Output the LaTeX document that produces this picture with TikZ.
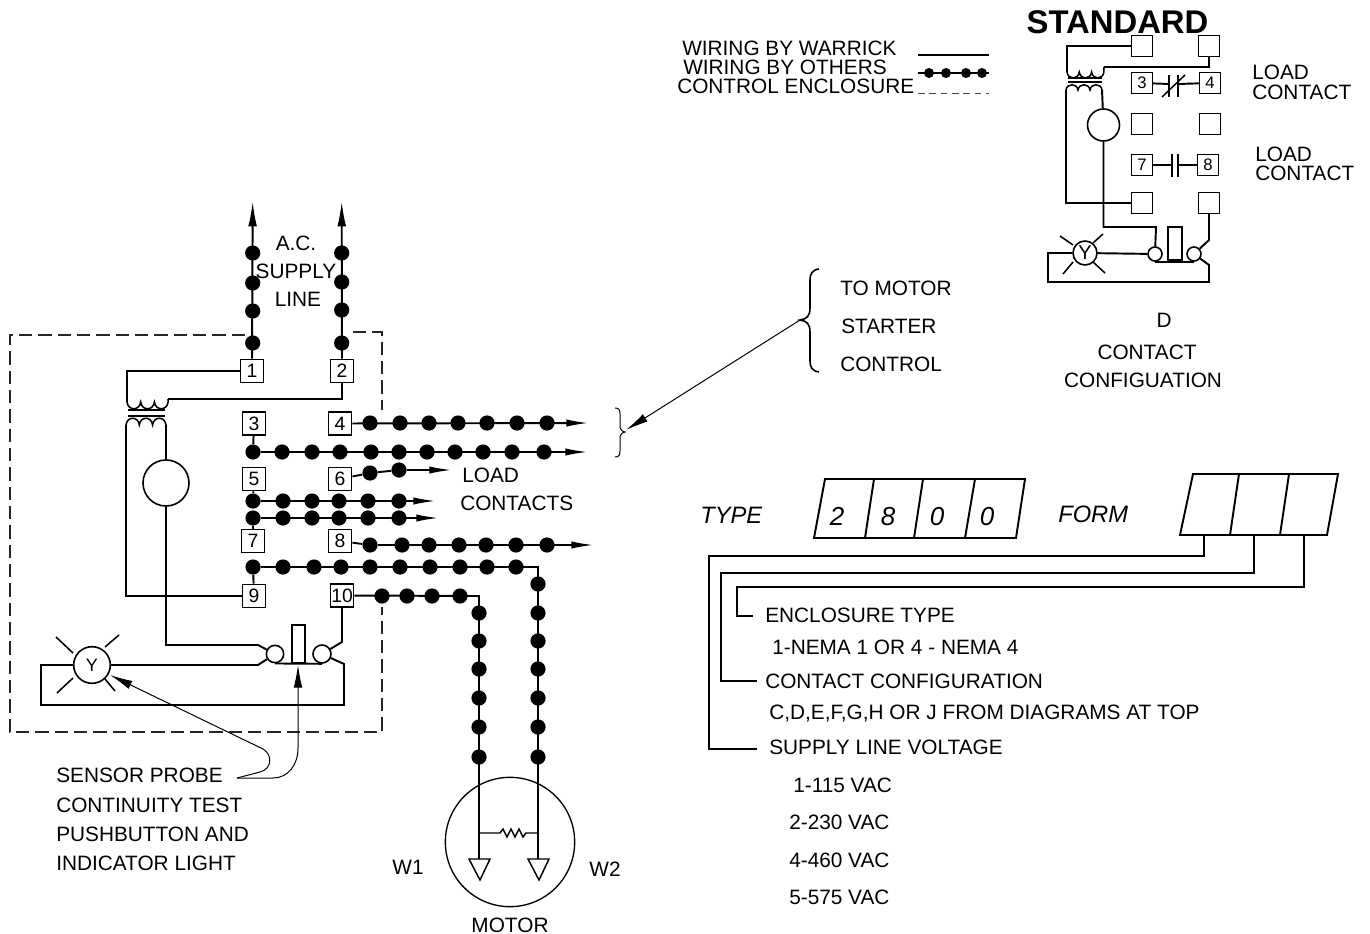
\documentclass[tikz,border=0pt]{standalone}
\usepackage{fontspec}
\setmainfont{Liberation Sans}
\usetikzlibrary{arrows.meta}
\tikzset{
  wire/.style={line width=1.45pt},
  thinwire/.style={line width=1.15pt},
  flow/.style={-{Latex[length=17pt,width=5.5pt]}},
  lead/.style={line width=0.75pt,-{Latex[length=17pt,width=6.5pt]}},
  wiredot/.style={circle,fill=black,inner sep=0pt,minimum size=11.4pt},
  term/.style={draw,line width=1.2pt,fill=white,inner sep=0pt,minimum width=17.5pt,minimum height=17.5pt,font=\fontsize{14.5}{15}\selectfont},
  sterm/.style={draw,line width=1.2pt,fill=white,inner sep=0pt,minimum width=15.5pt,minimum height=15.5pt,font=\fontsize{12.5}{13}\selectfont},
  label/.style={inner sep=0pt,text height=11pt,text depth=0pt,font=\fontsize{15.6}{18}\selectfont},
  lefttext/.style={label,anchor=west},
  ittext/.style={inner sep=0pt,text height=13pt,text depth=0pt,font=\fontsize{17.8}{20}\selectfont\itshape},
  digit/.style={inner sep=0pt,text height=14pt,text depth=0pt,font=\fontsize{19.5}{22}\selectfont\itshape},
  ringbig/.style={draw,line width=1.2pt,circle,inner sep=0pt,fill=white},
  encl/.style={line width=0.85pt,draw=black!85,dash pattern=on 10pt off 4.5pt}
}
\begin{document}
\begin{tikzpicture}[x=0.75pt,y=-0.75pt]
  \useasboundingbox (0,0) rectangle (1370,934);
  \draw[encl] (245,335) -- (10,335) -- (10,732) -- (382,732) -- (382,607);
  \draw[encl] (353,332) -- (382,332) -- (382,410);

  \node[inner sep=0pt,text height=17.5pt,text depth=0pt,font=\fontsize{24.6}{26}\selectfont\bfseries] (Std) at (1117.5,22) {STANDARD};
  \node[lefttext] (L1) at (682,48) {WIRING BY WARRICK};
  \node[lefttext] (L2) at (683,67) {WIRING BY OTHERS};
  \node[lefttext] (L3) at (677,86) {CONTROL ENCLOSURE};
  \coordinate (L1a) at (918,55);
  \coordinate (L1b) at (989,55);
  \coordinate (L2a) at (918,73);
  \coordinate (L2b) at (989,73);
  \coordinate (L3a) at (918,93);
  \coordinate (L3b) at (989,93);
  \draw[wire] (L1a) -- (L1b);
  \draw[wire] (L2a) -- (L2b);
  \draw[line width=0.6pt,draw=black!70,dash pattern=on 5pt off 3.5pt] (L3a) -- (L3b);
  \foreach \i/\x in {1/929,2/946,3/966,4/982}
    \node[circle,fill=black,inner sep=0pt,minimum size=7.5pt] (L2_\i) at (\x,73) {};

  \node[term] (T1) at (252,371) {1};
  \node[term] (T2) at (342,371) {2};
  \node[term] (T3) at (254,423.5) {3};
  \node[term] (T4) at (340,423.5) {4};
  \node[term] (T5) at (254,479) {5};
  \node[term] (T6) at (340,479) {6};
  \node[term] (T7) at (253,541) {7};
  \node[term] (T8) at (340,541) {8};
  \node[term] (T9) at (254,596) {9};
  \node[term] (T10) at (342,595.5) {10};

  \foreach \i/\y in {1/253,2/283,3/311,4/343}
    \node[wiredot] (DA_\i) at (252.7,\y) {};
  \foreach \i/\y in {1/253,2/282,3/310,4/343}
    \node[wiredot] (DB_\i) at (341.7,\y) {};
  \coordinate (AA) at (252.7,201);
  \coordinate (AB) at (341.7,201);
  \draw[wire,-{Latex[length=19pt,width=6.5pt]}] (T1) -- (AA);
  \draw[wire,-{Latex[length=19pt,width=6.5pt]}] (T2) -- (AB);

  \foreach \i/\x in {1/370,2/400,3/429,4/458,5/487,6/517,7/547}
    \node[wiredot] (D4_\i) at (\x,423) {};
  \foreach \i/\x in {1/253,2/282,3/312,4/340,5/371,6/399,7/427,8/455,9/483,10/512,11/544}
    \node[wiredot] (D3_\i) at (\x,452) {};
  \node[wiredot] (D6_1) at (370,473) {};
  \node[wiredot] (D6_2) at (399,470) {};
  \foreach \i/\x in {1/253,2/283,3/312,4/339,5/368,6/399} {
    \node[wiredot] (D5_\i) at (\x,501) {};
    \node[wiredot] (D7_\i) at (\x,518) {};
  }
  \foreach \i/\x in {1/370,2/402,3/429,4/459,5/486,6/516,7/547}
    \node[wiredot] (D8_\i) at (\x,545) {};
  \foreach \i/\x in {1/253,2/283,3/314,4/341,5/370,6/400,7/430,8/460,9/487,10/516}
    \node[wiredot] (D9_\i) at (\x,567) {};
  \foreach \i/\x in {1/382,2/407,3/432,4/460}
    \node[wiredot] (D10_\i) at (\x,596) {};
  \foreach \i/\y in {1/584,2/613,3/641,4/669,5/698,6/727,7/757}
    \node[wiredot] (DR_\i) at (538,\y) {};
  \foreach \i/\y in {1/613,2/641,3/669,4/698,5/727,6/757}
    \node[wiredot] (DL_\i) at (479,\y) {};

  \coordinate (A4) at (589,423);
  \coordinate (A3) at (588,452);
  \coordinate (A6) at (452,470);
  \coordinate (A5) at (436,501);
  \coordinate (A7) at (439,518);
  \coordinate (A8) at (594,545);
  \draw[wire,flow] (T4) -- (A4);
  \draw[wire] (T3) -- (D3_1);
  \draw[wire,flow] (D3_1) -- (A3);
  \draw[wire] (T6) -- (D6_1);
  \draw[wire] (D6_1) -- (D6_2);
  \draw[wire,flow] (D6_2) -- (A6);
  \draw[wire] (T5) -- (D5_1);
  \draw[wire,flow] (D5_1) -- (A5);
  \draw[wire] (T7) -- (D7_1);
  \draw[wire,flow] (D7_1) -- (A7);
  \draw[wire] (T8) -- (D8_1);
  \draw[wire,flow] (D8_1) -- (A8);
  \draw[wire] (T9) -- (D9_1);

  \node[draw,line width=1pt,circle,inner sep=0pt,minimum size=97pt] (Motor) at (510,842) {};
  \coordinate (CR) at (538,567);
  \coordinate (CL) at (479,596);
  \coordinate (W1t) at (479,859);
  \coordinate (W2t) at (538,859);
  \draw[wire] (D9_1) -- (CR) -- (W2t);
  \draw[wire] (T10) -- (CL) -- (W1t);
  \draw[line width=1.1pt] (469,859) -- (490,859) -- (480,880) -- cycle;
  \draw[line width=1.1pt] (528,859) -- (549,859) -- (539,880) -- cycle;
  \draw[line width=1.1pt] (479,833) -- (500,833) -- (503,829) -- (507,837) -- (511,829) -- (515,837) -- (519,829) -- (523,837) -- (526,833) -- (538,833);

  \coordinate (PriL) at (127,402);
  \coordinate (PriR) at (168,399);
  \coordinate (SecL) at (126,425);
  \coordinate (SecR) at (166,425);
  \node[ringbig,minimum size=34.5pt] (Coil) at (166,483) {};
  \draw[wire] (T1) -| (PriL);
  \draw[thinwire] (PriL) .. controls +(1,9) and +(-1,9) .. ++(13.7,0) .. controls +(1,9) and +(-1,9) .. ++(13.7,0) .. controls +(1,9) and +(-1,9) .. ++(13.7,0) -- (PriR);
  \draw[wire] (T2) |- (PriR);
  \draw[wire] (128,410) -- (165,410);
  \draw[wire] (128,416) -- (165,416);
  \draw[thinwire] (SecL) .. controls +(1,-9) and +(-1,-9) .. ++(13.3,0) .. controls +(1,-9) and +(-1,-9) .. ++(13.3,0) .. controls +(1,-9) and +(-1,-9) .. (SecR);
  \draw[wire] (T9) -| (SecL);
  \draw[wire] (SecR) -- (Coil);

  \node[ringbig,minimum size=27.5pt,font=\fontsize{13.5}{14}\selectfont] (Lamp) at (92,665) {Y};
  \node[ringbig,minimum size=13pt] (K1) at (275,654) {};
  \node[ringbig,minimum size=13.5pt] (K2) at (322,654) {};
  \node[draw,line width=1.2pt,inner sep=0pt,minimum width=10pt,minimum height=28.5pt] (Push) at (298.5,644) {};
  \coordinate (KA) at (258,645);
  \coordinate (KB) at (258,665);
  \coordinate (KC) at (342,642);
  \coordinate (KD) at (344,664);
  \coordinate (KE) at (344,705);
  \coordinate (KF) at (41,705);
  \coordinate (KG) at (41,665);
  \draw[wire] (Coil) |- (KA) -- (K1);
  \draw[wire] (Lamp) -- (KB) -- (K1);
  \draw[wire] (K1.south) -- (K2.south);
  \draw[wire] (T10) -- (KC) -- (K2);
  \draw[wire] (K2) -- (KD) -- (KE) -- (KF) -- (KG) -- (Lamp);
  \draw[thinwire] (73,653) -- (56,637);
  \draw[thinwire] (105,647) -- (119,635);
  \draw[thinwire] (73,678) -- (57,693);
  \draw[thinwire] (105,679) -- (115,691);

  \node[lefttext] (P1) at (56,775) {SENSOR PROBE};
  \node[lefttext] (P2) at (56,805) {CONTINUITY TEST};
  \node[lefttext] (P3) at (56,834) {PUSHBUTTON AND};
  \node[lefttext] (P4) at (56,863) {INDICATOR LIGHT};
  \coordinate (PS) at (237,778);
  \coordinate (PL) at (110,675);
  \coordinate (PB) at (298,665);
  \draw[lead] (PS) -- (260,772) .. controls (272,769) and (273,755) .. (263,749) -- (PL);
  \draw[lead] (PS) -- (273,778) .. controls (288,778) and (298,765) .. (298,748) -- (PB);

  \node[label] (S1) at (296,243) {A.C.};
  \node[label] (S2) at (296,271) {SUPPLY};
  \node[label] (S3) at (298,299) {LINE};
  \node[lefttext] (C1) at (462,475) {LOAD};
  \node[lefttext] (C2) at (460,503) {CONTACTS};
  \node[label] (W1) at (408,867) {W1};
  \node[label] (W2) at (605,869) {W2};
  \node[label] (M1) at (510,925) {MOTOR};

  \draw[line width=1.2pt] (819,269) .. controls (812,270) and (810,274) .. (810,280) -- (810,308) .. controls (810,316) and (807,319) .. (800,320) .. controls (807,321) and (810,324) .. (810,332) -- (810,361) .. controls (810,367) and (812,371) .. (819,372);
  \draw[line width=0.75pt] (615,408) .. controls (619,408) and (620,410) .. (620,414) -- (620,425) .. controls (620,429) and (621,431) .. (625,432) .. controls (621,433) and (620,435) .. (620,439) -- (620,451) .. controls (620,455) and (619,457) .. (615,457);
  \coordinate (BA) at (800,320);
  \coordinate (BB) at (626,430);
  \draw[lead] (BA) -- (BB);
  \node[lefttext] (B1) at (840,288) {TO MOTOR};
  \node[lefttext] (B2) at (841,326) {STARTER};
  \node[lefttext] (B3) at (840,364) {CONTROL};

  \node[sterm] (S_1) at (1142,46) {};
  \node[sterm] (S_2) at (1209,46) {};
  \node[sterm] (S_3) at (1142,83) {3};
  \node[sterm] (S_4) at (1210,83) {4};
  \node[sterm] (S_5) at (1142,124) {};
  \node[sterm] (S_6) at (1210,124) {};
  \node[sterm] (S_7) at (1142,165) {7};
  \node[sterm] (S_8) at (1208,165) {8};
  \node[sterm] (S_9) at (1142,203) {};
  \node[sterm] (S_10) at (1209,203) {};
  \coordinate (SPL) at (1067,72);
  \coordinate (SPR) at (1104,67);
  \coordinate (SSL) at (1066,90);
  \coordinate (SSR) at (1102,90);
  \node[ringbig,minimum size=24pt] (SCoil) at (1103.5,125) {};
  \draw[wire] (S_1) -| (SPL);
  \draw[thinwire] (SPL) .. controls +(1,8) and +(-1,8) .. ++(12.3,0) .. controls +(1,8) and +(-1,8) .. ++(12.3,0) .. controls +(1,8) and +(-1,8) .. ++(12.3,0) -- (SPR);
  \draw[wire] (S_2) |- (SPR);
  \draw[wire] (1068,78) -- (1102,78);
  \draw[wire] (1068,82) -- (1102,82);
  \draw[thinwire] (SSL) .. controls +(1,-7) and +(-1,-7) .. ++(12,0) .. controls +(1,-7) and +(-1,-7) .. ++(12,0) .. controls +(1,-7) and +(-1,-7) .. (SSR);
  \draw[wire] (S_9) -| (SSL);
  \draw[wire] (SSR) -- (SCoil);
  \draw[wire] (S_3) -- (1169,84);
  \draw[wire] (1178,84) -- (S_4);
  \draw[thinwire] (1169,75) -- (1169,97);
  \draw[thinwire] (1178,75) -- (1178,97);
  \draw[thinwire] (1162,97) -- (1185,75);
  \draw[wire] (S_7) -- (1172,165);
  \draw[wire] (1178,165) -- (S_8);
  \draw[thinwire] (1172,154) -- (1172,177);
  \draw[thinwire] (1178,154) -- (1178,177);

  \node[ringbig,minimum size=18pt,font=\fontsize{15}{16}\selectfont] (SLamp) at (1085,253) {Y};
  \node[ringbig,minimum size=10.5pt] (SK1) at (1155,254) {};
  \node[ringbig,minimum size=10.5pt] (SK2) at (1194,254) {};
  \node[draw,line width=1.2pt,inner sep=0pt,minimum width=10.5pt,minimum height=25pt] (SPush) at (1175,243.5) {};
  \coordinate (SKA) at (1156,227);
  \coordinate (SKC) at (1209,240);
  \coordinate (SKD) at (1209,265);
  \coordinate (SKE) at (1209,282);
  \coordinate (SKF) at (1048,282);
  \coordinate (SKG) at (1048,253);
  \draw[wire] (SCoil) |- (SKA) -- (SK1);
  \draw[wire] (SLamp) -- (SK1);
  \draw[wire] (SK1.south) -- (SK2.south);
  \draw[wire] (S_10) -- (SKC) -- (SK2);
  \draw[wire] (SK2) -- (SKD) -- (SKE) -- (SKF) -- (SKG) -- (SLamp);
  \draw[thinwire] (1073,245) -- (1060,236);
  \draw[thinwire] (1093,243) -- (1103,234);
  \draw[thinwire] (1073,262) -- (1063,274);
  \draw[thinwire] (1093,262) -- (1105,273);

  \node[lefttext] (LC1) at (1252,72) {LOAD};
  \node[lefttext] (LC2) at (1252,92) {CONTACT};
  \node[lefttext] (LC3) at (1255,154) {LOAD};
  \node[lefttext] (LC4) at (1255,173) {CONTACT};
  \node[label] (D1) at (1164,320) {D};
  \node[label] (D2) at (1147,352) {CONTACT};
  \node[label] (D3) at (1143,380) {CONFIGUATION};

  \node[ittext,anchor=west] (TypeL) at (700,515) {TYPE};
  \node[ittext,anchor=west] (FormL) at (1058,514) {FORM};
  \draw[wire] (825,479) -- (1025,479) -- (1016,538) -- (814,538) -- cycle;
  \draw[wire] (874,479) -- (865,538);
  \draw[wire] (923,479) -- (914,538);
  \draw[wire] (975,479) -- (965,538);
  \node[digit] (Y1) at (837,516) {2};
  \node[digit] (Y2) at (888,516) {8};
  \node[digit] (Y3) at (937,516) {0};
  \node[digit] (Y4) at (987,516) {0};
  \draw[wire] (1193,474) -- (1338,474) -- (1327,535) -- (1180,535) -- cycle;
  \draw[wire] (1239,474) -- (1230,535);
  \draw[wire] (1289,474) -- (1280,535);

  \coordinate (F1) at (1204,535);
  \coordinate (F2) at (1254,535);
  \coordinate (F3) at (1304,535);
  \coordinate (F1c) at (709,556);
  \coordinate (F2c) at (721,573);
  \coordinate (F3c) at (737,587);
  \coordinate (F1e) at (757,749);
  \coordinate (F2e) at (757,681);
  \coordinate (F3e) at (753,616);
  \draw[wire] (F1) |- (F1c) |- (F1e);
  \draw[wire] (F2) |- (F2c) |- (F2e);
  \draw[wire] (F3) |- (F3c) |- (F3e);
  \node[lefttext] (E1) at (765,615) {ENCLOSURE TYPE};
  \node[lefttext] (E2) at (772,647) {1-NEMA 1 OR 4 - NEMA 4};
  \node[lefttext] (E3) at (765,681) {CONTACT CONFIGURATION};
  \node[lefttext] (E4) at (769,712) {C,D,E,F,G,H OR J FROM DIAGRAMS AT TOP};
  \node[lefttext] (E5) at (769,747) {SUPPLY LINE VOLTAGE};
  \node[lefttext] (V1) at (793,785) {1-115 VAC};
  \node[lefttext] (V2) at (789,822) {2-230 VAC};
  \node[lefttext] (V3) at (789,860) {4-460 VAC};
  \node[lefttext] (V4) at (789,897) {5-575 VAC};
\end{tikzpicture}
\end{document}
